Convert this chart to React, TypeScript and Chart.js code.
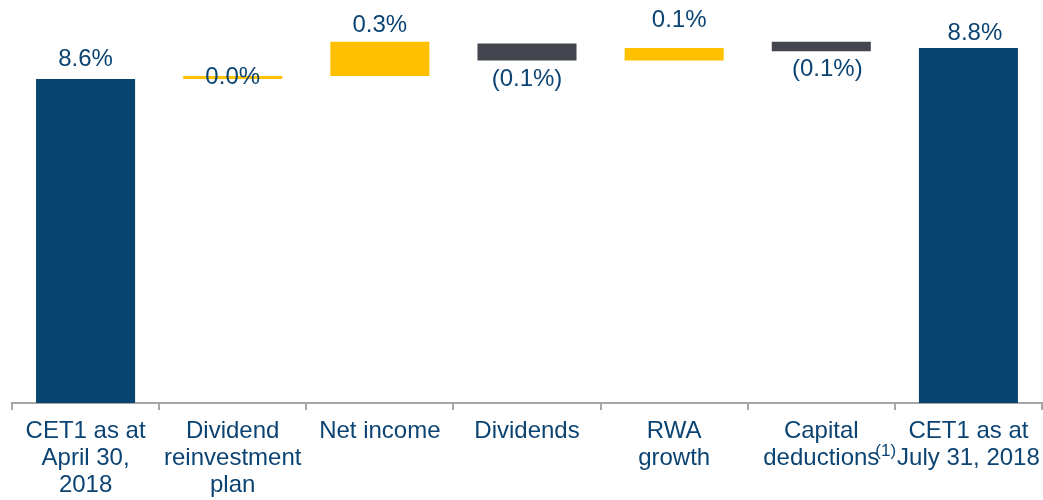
import React, { useEffect, useRef } from "react";
import { Chart, registerables } from "chart.js";

Chart.register(...registerables);

// ---- data ----
const categories: string[][] = [
  ["CET1 as at", "April 30,", "2018"],
  ["Dividend", "reinvestment", "plan"],
  ["Net income"],
  ["Dividends"],
  ["RWA", "growth"],
  ["Capital", "deductions"],
  ["CET1 as at", "July 31, 2018"],
];
const barStart = [6.5, 8.59, 8.61, 8.71, 8.71, 8.77, 6.5];
const barEnd = [8.59, 8.61, 8.83, 8.82, 8.79, 8.83, 8.79];
const kinds = ["total", "increase", "increase", "decrease", "increase", "decrease", "total"];
const valueLabels = ["8.6%", "0.0%", "0.3%", "(0.1%)", "0.1%", "(0.1%)", "8.8%"];
const footnoteIndex = 5;
const footnoteText = "(1)";

// ---- styles ----
const FONT = "'Liberation Sans', Arial, sans-serif";
const TEXT = "#0B4372";
const COLORS: Record<string, string> = {
  total: "#07446F",
  increase: "#FFC000",
  decrease: "#44464F",
};
const LABEL_DY = [20, 0, 16.5, 18.5, 27.5, 18, 15];
const LABEL_DX = [0, 0, 0, 0, 5, 6, 6.5];

const labelPlugin = {
  id: "waterfallLabels",
  afterDatasetsDraw(chart: any) {
    const ctx = chart.ctx;
    const meta = chart.getDatasetMeta(0);
    ctx.save();
    ctx.font = `24px ${FONT}`;
    ctx.fillStyle = TEXT;
    ctx.textAlign = "center";
    ctx.textBaseline = "middle";
    meta.data.forEach((el: any, i: number) => {
      const top = Math.min(el.y, el.base);
      const bottom = Math.max(el.y, el.base);
      let y: number;
      if (LABEL_DY[i] === 0) y = (top + bottom) / 2;
      else if (kinds[i] === "decrease") y = bottom + LABEL_DY[i];
      else y = top - LABEL_DY[i];
      ctx.fillText(valueLabels[i], el.x + LABEL_DX[i], y);
    });
    // footnote superscript on x label
    const xs = chart.scales.x;
    const lines = categories[footnoteIndex];
    const last = lines[lines.length - 1];
    const w = ctx.measureText(last).width;
    const cx = xs.getPixelForTick(footnoteIndex);
    ctx.font = `17px ${FONT}`;
    ctx.textAlign = "left";
    ctx.fillText(footnoteText, cx + w / 2 - 4, xs.top + 48.5);
    ctx.restore();
  },
};

export default function App() {
  const ref = useRef<HTMLCanvasElement | null>(null);
  useEffect(() => {
    if (!ref.current) return;
    const chart = new Chart(ref.current, {
      type: "bar",
      data: {
        labels: categories,
        datasets: [
          {
            data: barStart.map((s, i) => [s, barEnd[i]]) as any,
            backgroundColor: kinds.map((k) => COLORS[k]),
            barPercentage: 0.673,
            categoryPercentage: 1,
            borderWidth: 0,
          },
        ],
      },
      options: {
        animation: false,
        responsive: false,
        maintainAspectRatio: false,
        layout: { padding: { left: 12, right: 1, top: 0, bottom: 0 } },
        plugins: { legend: { display: false }, tooltip: { enabled: false } },
        scales: {
          x: {
            afterFit: (s: any) => {
              s.height = 97;
              s.paddingLeft = 0;
              s.paddingRight = 0;
            },
            grid: {
              offset: true,
              drawOnChartArea: false,
              drawTicks: true,
              tickLength: 7,
              color: "#A6A6A6",
              lineWidth: 2,
            },
            border: { display: true, color: "#A6A6A6", width: 2 },
            ticks: {
              color: TEXT,
              font: { family: FONT, size: 24, lineHeight: 1.13 },
              padding: 8,
              autoSkip: false,
              maxRotation: 0,
              minRotation: 0,
            },
          },
          y: { display: false, min: 6.5, max: 9.1 },
        },
      },
      plugins: [labelPlugin],
    });
    return () => chart.destroy();
  }, []);
  return (
    <div style={{ position: "fixed", left: 0, top: 0, width: 1043, height: 500, background: "#fff" }}>
      <canvas ref={ref} width={1043} height={500} style={{ width: 1043, height: 500, display: "block" }} />
    </div>
  );
}
